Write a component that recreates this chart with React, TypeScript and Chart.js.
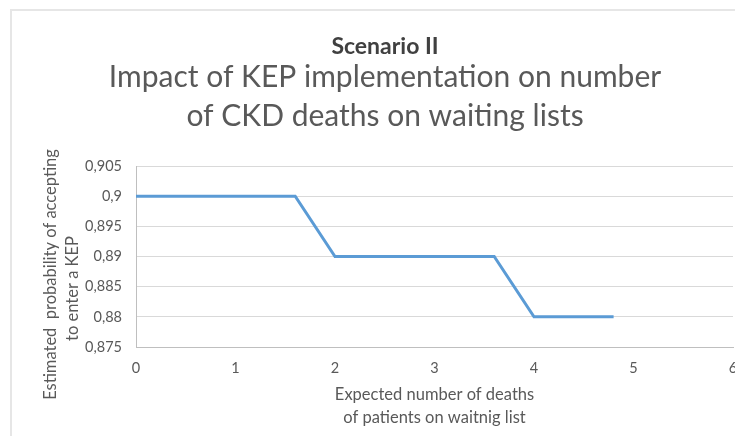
import React, { useEffect, useRef } from "react";
import { Chart, registerables } from "chart.js";

Chart.register(...registerables);

const deaths = [0, 1.6, 2, 3.6, 4, 4.8];
const probability = [0.9, 0.9, 0.89, 0.89, 0.88, 0.88];
const titleMain = "Scenario II";
const subtitleLines = ["Impact of KEP implementation on number", "of CKD deaths on waiting lists"];
const xTitleLines = ["Expected number of deaths", "of patients on waitnig list"];
const yTitleLines = ["Estimated  probability of accepting", "to enter a KEP"];
const xRange = [0, 6];
const yRange = [0.875, 0.905];

const FONT = "Lato, 'Open Sans', sans-serif";
const TEXT = "#595959";

const yTitlePlugin = {
  id: "yTitlePlugin",
  afterDraw(chart: any) {
    const { ctx, chartArea } = chart;
    const cy = (chartArea.top + chartArea.bottom) / 2;
    ctx.save();
    ctx.fillStyle = TEXT;
    ctx.font = `16.5px ${FONT}`;
    ctx.textAlign = "center";
    ctx.textBaseline = "middle";
    const xs = [51, 73];
    const dy = [18, 32];
    yTitleLines.forEach((line, i) => {
      ctx.save();
      ctx.translate(xs[i], cy + dy[i]);
      ctx.rotate(-Math.PI / 2);
      ctx.fillText(line, 0, 0);
      ctx.restore();
    });
    ctx.restore();
  },
};

export default function App() {
  const ref = useRef<HTMLCanvasElement | null>(null);
  useEffect(() => {
    if (!ref.current) return;
    const chart = new Chart(ref.current, {
      type: "scatter",
      data: {
        datasets: [
          {
            data: deaths.map((d, i) => ({ x: d, y: probability[i] })),
            showLine: true,
            borderColor: "#5B9BD5",
            backgroundColor: "#5B9BD5",
            borderWidth: 3,
            pointRadius: 0,
            tension: 0,
          },
        ],
      },
      options: {
        animation: false,
        responsive: false,
        layout: { padding: { top: 0, left: 37, right: 37, bottom: 8 } },
        plugins: {
          legend: { display: false },
          tooltip: { enabled: false },
          title: {
            display: true,
            text: titleMain,
            color: "#404040",
            font: { family: FONT, size: 23, weight: "bold", lineHeight: 1.0 },
            padding: { top: 35, bottom: 0 },
          },
          subtitle: {
            display: true,
            text: subtitleLines,
            color: TEXT,
            font: { family: FONT, size: 30, lineHeight: 1.3 },
            padding: { top: 0, bottom: 30 },
          },
        },
        scales: {
          x: {
            type: "linear",
            min: xRange[0],
            max: xRange[1],
            afterFit: (s: any) => {
              s.height = 89;
            },
            ticks: { stepSize: 1, color: TEXT, font: { family: FONT, size: 14.5 }, padding: 13 },
            grid: { display: false, drawTicks: false },
            border: { display: true, color: "#bfbfbf", width: 1 },
            title: {
              display: true,
              text: xTitleLines,
              color: TEXT,
              font: { family: FONT, size: 16.5, lineHeight: 1.4 },
              padding: { top: 8, bottom: 7 },
            },
          },
          y: {
            min: yRange[0],
            max: yRange[1],
            afterFit: (s: any) => {
              s.width = 99;
            },
            ticks: {
              stepSize: 0.005,
              color: TEXT,
              font: { family: FONT, size: 14.5 },
              padding: 14,
              callback: (v: any) => String(Number(Number(v).toFixed(3))).replace(".", ","),
            },
            grid: { color: "#d9d9d9", drawTicks: false },
            border: { display: true, color: "#bfbfbf", width: 1 },
          },
        },
      } as any,
      plugins: [yTitlePlugin],
    });
    return () => chart.destroy();
  }, []);
  return (
    <div style={{ position: "relative", width: 743, height: 444, margin: -8, overflow: "hidden", background: "#fff" }}>
      <div
        style={{
          position: "absolute",
          left: 10,
          top: 9,
          width: 800,
          height: 500,
          border: "2px solid #e6e6e6",
        }}
      />
      <canvas ref={ref} width={770} height={444} style={{ position: "absolute", left: 0, top: 0 }} />
    </div>
  );
}
